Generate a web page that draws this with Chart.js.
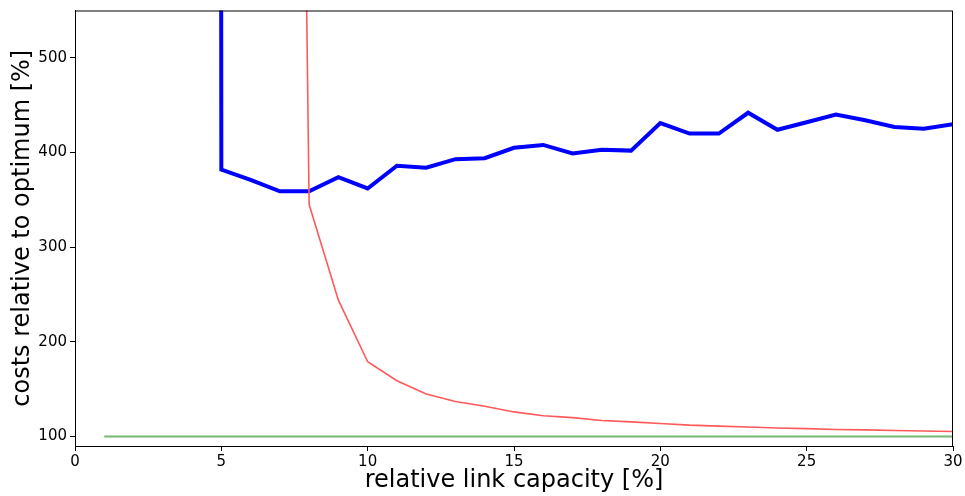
<!DOCTYPE html>
<html>
<head>
<meta charset="utf-8">
<script src="https://cdn.jsdelivr.net/npm/chart.js@4/dist/chart.umd.min.js"></script>
<style>
  html, body { margin: 0; padding: 0; background: #fff; }
  #wrap { width: 965px; height: 496px; }
</style>
</head>
<body>
<div id="wrap"><canvas id="chart" width="965" height="496"></canvas></div>
<script>
// link capacity in percent
const capacity = [1, 2, 3, 4, 5, 6, 7, 8, 9, 10, 11, 12, 13, 14, 15,
                  16, 17, 18, 19, 20, 21, 22, 23, 24, 25, 26, 27, 28, 29, 30];

// heuristic costs (thick blue), very large below 5 %
const costsBlue = [90000, 80000, 70000, 60000, 382, 371, 359, 359, 374, 362,
                   386, 384, 393, 394, 405, 408, 399, 403, 402, 431,
                   420, 420, 442, 424, 432, 440, 434, 427, 425, 430];

// second method (thin red), very large below 8 %
const costsRed = [40000, 30000, 20000, 12000, 8000, 5000, 2800, 345, 244, 179,
                  159, 145, 137, 132, 126, 122, 120, 117, 115.5, 113.7,
                  112, 111, 110, 109, 108.4, 107.5, 107, 106.3, 105.8, 105.3];

// optimum reference
const costsOpt = capacity.map(() => 100);

const xTicks = [0, 5, 10, 15, 20, 25, 30];
const yTicks = [100, 200, 300, 400, 500];

const toPoints = ys => capacity.map((x, i) => ({ x: x, y: ys[i] }));

// draws the full axes box
const frame = {
  id: "frame",
  afterDraw(chart) {
    const a = chart.chartArea;
    const ctx = chart.ctx;
    ctx.save();
    ctx.strokeStyle = "#000";
    ctx.lineWidth = 1;
    ctx.strokeRect(a.left + 0.5, a.top + 0.5, a.right - a.left - 1, a.bottom - a.top);
    ctx.restore();
  }
};

const font = "'DejaVu Sans', sans-serif";

new Chart(document.getElementById("chart"), {
  type: "line",
  data: {
    datasets: [
      {
        data: toPoints(costsOpt),
        borderColor: "rgb(115,185,115)",
        borderWidth: 2,
        pointRadius: 0,
        tension: 0
      },
      {
        data: toPoints(costsRed),
        borderColor: "rgb(255,89,89)",
        borderWidth: 1.6,
        pointRadius: 0,
        tension: 0
      },
      {
        data: toPoints(costsBlue),
        borderColor: "#0000ff",
        borderWidth: 4,
        pointRadius: 0,
        tension: 0
      }
    ]
  },
  options: {
    responsive: false,
    animation: false,
    layout: { padding: { top: 10, right: 12, left: 0, bottom: 0 } },
    plugins: { legend: { display: false }, tooltip: { enabled: false } },
    scales: {
      x: {
        type: "linear",
        min: 0,
        max: 30,
        afterBuildTicks: s => { s.ticks = xTicks.map(v => ({ value: v })); },
        afterFit: s => { s.height = 50; },
        grid: { display: true, drawOnChartArea: false, tickLength: 5, color: "#000" },
        border: { display: true, color: "#000" },
        ticks: { color: "#000", font: { family: font, size: 15 }, padding: 2, maxRotation: 0 },
        title: {
          display: true,
          text: "relative link capacity [%]",
          color: "#000",
          font: { family: font, size: 24 },
          padding: { top: 0, bottom: 1 }
        }
      },
      y: {
        type: "linear",
        min: 90,
        max: 550,
        afterBuildTicks: s => { s.ticks = yTicks.map(v => ({ value: v })); },
        afterFit: s => { s.width = 75; },
        grid: { display: true, drawOnChartArea: false, tickLength: 5, color: "#000" },
        border: { display: true, color: "#000" },
        ticks: { color: "#000", font: { family: font, size: 15, lineHeight: 1 }, padding: 3 },
        title: {
          display: true,
          text: "costs relative to optimum [%]",
          color: "#000",
          font: { family: font, size: 24 },
          padding: { top: 8, bottom: 0 }
        }
      }
    }
  },
  plugins: [frame]
});
</script>
</body>
</html>
